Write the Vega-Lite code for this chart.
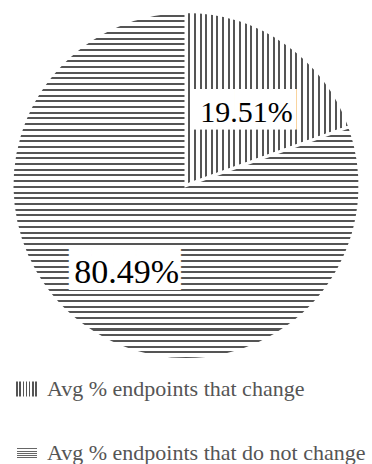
{
  "$schema": "https://vega.github.io/schema/vega-lite/v6.json",
  "width": 372,
  "height": 464,
  "autosize": {"type": "fit", "contains": "padding"},
  "padding": 0,
  "background": "white",
  "config": {"view": {"stroke": null}},
  "data": {
    "values": [
      {"category": "Avg % endpoints that change", "share": 0.1951},
      {"category": "Avg % endpoints that do not change", "share": 0.8049}
    ]
  },
  "encoding": {
    "theta": {"field": "share", "type": "quantitative", "stack": true},
    "order": {"field": "share", "type": "quantitative", "sort": "ascending"}
  },
  "layer": [
    {
      "mark": {"type": "arc", "outerRadius": 174, "stroke": "white", "strokeWidth": 3},
      "encoding": {
        "fill": {
          "condition": [
            {"test": "datum.category === 'Avg % endpoints that change'", "value": {"gradient": "linear", "x1": 0, "y1": 0, "x2": 1, "y2": 0, "stops": [
                {"offset":0,"color":"#fff"},
                {"offset":0.0141,"color":"#fff"},{"offset":0.0141,"color":"#555"},{"offset":0.0264,"color":"#555"},{"offset":0.0264,"color":"#fff"},
                {"offset":0.0485,"color":"#fff"},{"offset":0.0485,"color":"#555"},{"offset":0.0608,"color":"#555"},{"offset":0.0608,"color":"#fff"},
                {"offset":0.0829,"color":"#fff"},{"offset":0.0829,"color":"#555"},{"offset":0.0952,"color":"#555"},{"offset":0.0952,"color":"#fff"},
                {"offset":0.1173,"color":"#fff"},{"offset":0.1173,"color":"#555"},{"offset":0.1296,"color":"#555"},{"offset":0.1296,"color":"#fff"},
                {"offset":0.1517,"color":"#fff"},{"offset":0.1517,"color":"#555"},{"offset":0.1640,"color":"#555"},{"offset":0.1640,"color":"#fff"},
                {"offset":0.1861,"color":"#fff"},{"offset":0.1861,"color":"#555"},{"offset":0.1984,"color":"#555"},{"offset":0.1984,"color":"#fff"},
                {"offset":0.2205,"color":"#fff"},{"offset":0.2205,"color":"#555"},{"offset":0.2328,"color":"#555"},{"offset":0.2328,"color":"#fff"},
                {"offset":0.2549,"color":"#fff"},{"offset":0.2549,"color":"#555"},{"offset":0.2672,"color":"#555"},{"offset":0.2672,"color":"#fff"},
                {"offset":0.2893,"color":"#fff"},{"offset":0.2893,"color":"#555"},{"offset":0.3016,"color":"#555"},{"offset":0.3016,"color":"#fff"},
                {"offset":0.3237,"color":"#fff"},{"offset":0.3237,"color":"#555"},{"offset":0.3360,"color":"#555"},{"offset":0.3360,"color":"#fff"},
                {"offset":0.3581,"color":"#fff"},{"offset":0.3581,"color":"#555"},{"offset":0.3704,"color":"#555"},{"offset":0.3704,"color":"#fff"},
                {"offset":0.3925,"color":"#fff"},{"offset":0.3925,"color":"#555"},{"offset":0.4048,"color":"#555"},{"offset":0.4048,"color":"#fff"},
                {"offset":0.4269,"color":"#fff"},{"offset":0.4269,"color":"#555"},{"offset":0.4392,"color":"#555"},{"offset":0.4392,"color":"#fff"},
                {"offset":0.4613,"color":"#fff"},{"offset":0.4613,"color":"#555"},{"offset":0.4736,"color":"#555"},{"offset":0.4736,"color":"#fff"},
                {"offset":0.4957,"color":"#fff"},{"offset":0.4957,"color":"#555"},{"offset":0.5080,"color":"#555"},{"offset":0.5080,"color":"#fff"},
                {"offset":0.5301,"color":"#fff"},{"offset":0.5301,"color":"#555"},{"offset":0.5424,"color":"#555"},{"offset":0.5424,"color":"#fff"},
                {"offset":0.5645,"color":"#fff"},{"offset":0.5645,"color":"#555"},{"offset":0.5768,"color":"#555"},{"offset":0.5768,"color":"#fff"},
                {"offset":0.5989,"color":"#fff"},{"offset":0.5989,"color":"#555"},{"offset":0.6112,"color":"#555"},{"offset":0.6112,"color":"#fff"},
                {"offset":0.6333,"color":"#fff"},{"offset":0.6333,"color":"#555"},{"offset":0.6456,"color":"#555"},{"offset":0.6456,"color":"#fff"},
                {"offset":0.6677,"color":"#fff"},{"offset":0.6677,"color":"#555"},{"offset":0.6800,"color":"#555"},{"offset":0.6800,"color":"#fff"},
                {"offset":0.7021,"color":"#fff"},{"offset":0.7021,"color":"#555"},{"offset":0.7144,"color":"#555"},{"offset":0.7144,"color":"#fff"},
                {"offset":0.7365,"color":"#fff"},{"offset":0.7365,"color":"#555"},{"offset":0.7488,"color":"#555"},{"offset":0.7488,"color":"#fff"},
                {"offset":0.7709,"color":"#fff"},{"offset":0.7709,"color":"#555"},{"offset":0.7832,"color":"#555"},{"offset":0.7832,"color":"#fff"},
                {"offset":0.8053,"color":"#fff"},{"offset":0.8053,"color":"#555"},{"offset":0.8176,"color":"#555"},{"offset":0.8176,"color":"#fff"},
                {"offset":0.8397,"color":"#fff"},{"offset":0.8397,"color":"#555"},{"offset":0.8520,"color":"#555"},{"offset":0.8520,"color":"#fff"},
                {"offset":0.8741,"color":"#fff"},{"offset":0.8741,"color":"#555"},{"offset":0.8864,"color":"#555"},{"offset":0.8864,"color":"#fff"},
                {"offset":0.9085,"color":"#fff"},{"offset":0.9085,"color":"#555"},{"offset":0.9208,"color":"#555"},{"offset":0.9208,"color":"#fff"},
                {"offset":0.9429,"color":"#fff"},{"offset":0.9429,"color":"#555"},{"offset":0.9552,"color":"#555"},{"offset":0.9552,"color":"#fff"},
                {"offset":0.9773,"color":"#fff"},{"offset":0.9773,"color":"#555"},{"offset":0.9896,"color":"#555"},{"offset":0.9896,"color":"#fff"},
                {"offset":1,"color":"#fff"}
              ]}},
            {"test": "datum.category === 'Avg % endpoints that do not change'", "value": {"gradient": "linear", "x1": 0, "y1": 0, "x2": 0, "y2": 1, "stops": [
                {"offset":0,"color":"#fff"},
                {"offset":0.0093,"color":"#fff"},{"offset":0.0093,"color":"#555"},{"offset":0.0151,"color":"#555"},{"offset":0.0151,"color":"#fff"},
                {"offset":0.0257,"color":"#fff"},{"offset":0.0257,"color":"#555"},{"offset":0.0315,"color":"#555"},{"offset":0.0315,"color":"#fff"},
                {"offset":0.0421,"color":"#fff"},{"offset":0.0421,"color":"#555"},{"offset":0.0479,"color":"#555"},{"offset":0.0479,"color":"#fff"},
                {"offset":0.0585,"color":"#fff"},{"offset":0.0585,"color":"#555"},{"offset":0.0643,"color":"#555"},{"offset":0.0643,"color":"#fff"},
                {"offset":0.0749,"color":"#fff"},{"offset":0.0749,"color":"#555"},{"offset":0.0807,"color":"#555"},{"offset":0.0807,"color":"#fff"},
                {"offset":0.0913,"color":"#fff"},{"offset":0.0913,"color":"#555"},{"offset":0.0971,"color":"#555"},{"offset":0.0971,"color":"#fff"},
                {"offset":0.1077,"color":"#fff"},{"offset":0.1077,"color":"#555"},{"offset":0.1135,"color":"#555"},{"offset":0.1135,"color":"#fff"},
                {"offset":0.1241,"color":"#fff"},{"offset":0.1241,"color":"#555"},{"offset":0.1299,"color":"#555"},{"offset":0.1299,"color":"#fff"},
                {"offset":0.1404,"color":"#fff"},{"offset":0.1404,"color":"#555"},{"offset":0.1462,"color":"#555"},{"offset":0.1462,"color":"#fff"},
                {"offset":0.1568,"color":"#fff"},{"offset":0.1568,"color":"#555"},{"offset":0.1626,"color":"#555"},{"offset":0.1626,"color":"#fff"},
                {"offset":0.1732,"color":"#fff"},{"offset":0.1732,"color":"#555"},{"offset":0.1790,"color":"#555"},{"offset":0.1790,"color":"#fff"},
                {"offset":0.1896,"color":"#fff"},{"offset":0.1896,"color":"#555"},{"offset":0.1954,"color":"#555"},{"offset":0.1954,"color":"#fff"},
                {"offset":0.2060,"color":"#fff"},{"offset":0.2060,"color":"#555"},{"offset":0.2118,"color":"#555"},{"offset":0.2118,"color":"#fff"},
                {"offset":0.2224,"color":"#fff"},{"offset":0.2224,"color":"#555"},{"offset":0.2282,"color":"#555"},{"offset":0.2282,"color":"#fff"},
                {"offset":0.2388,"color":"#fff"},{"offset":0.2388,"color":"#555"},{"offset":0.2446,"color":"#555"},{"offset":0.2446,"color":"#fff"},
                {"offset":0.2552,"color":"#fff"},{"offset":0.2552,"color":"#555"},{"offset":0.2610,"color":"#555"},{"offset":0.2610,"color":"#fff"},
                {"offset":0.2716,"color":"#fff"},{"offset":0.2716,"color":"#555"},{"offset":0.2774,"color":"#555"},{"offset":0.2774,"color":"#fff"},
                {"offset":0.2880,"color":"#fff"},{"offset":0.2880,"color":"#555"},{"offset":0.2938,"color":"#555"},{"offset":0.2938,"color":"#fff"},
                {"offset":0.3044,"color":"#fff"},{"offset":0.3044,"color":"#555"},{"offset":0.3102,"color":"#555"},{"offset":0.3102,"color":"#fff"},
                {"offset":0.3208,"color":"#fff"},{"offset":0.3208,"color":"#555"},{"offset":0.3266,"color":"#555"},{"offset":0.3266,"color":"#fff"},
                {"offset":0.3372,"color":"#fff"},{"offset":0.3372,"color":"#555"},{"offset":0.3430,"color":"#555"},{"offset":0.3430,"color":"#fff"},
                {"offset":0.3536,"color":"#fff"},{"offset":0.3536,"color":"#555"},{"offset":0.3594,"color":"#555"},{"offset":0.3594,"color":"#fff"},
                {"offset":0.3700,"color":"#fff"},{"offset":0.3700,"color":"#555"},{"offset":0.3758,"color":"#555"},{"offset":0.3758,"color":"#fff"},
                {"offset":0.3863,"color":"#fff"},{"offset":0.3863,"color":"#555"},{"offset":0.3921,"color":"#555"},{"offset":0.3921,"color":"#fff"},
                {"offset":0.4027,"color":"#fff"},{"offset":0.4027,"color":"#555"},{"offset":0.4085,"color":"#555"},{"offset":0.4085,"color":"#fff"},
                {"offset":0.4191,"color":"#fff"},{"offset":0.4191,"color":"#555"},{"offset":0.4249,"color":"#555"},{"offset":0.4249,"color":"#fff"},
                {"offset":0.4355,"color":"#fff"},{"offset":0.4355,"color":"#555"},{"offset":0.4413,"color":"#555"},{"offset":0.4413,"color":"#fff"},
                {"offset":0.4519,"color":"#fff"},{"offset":0.4519,"color":"#555"},{"offset":0.4577,"color":"#555"},{"offset":0.4577,"color":"#fff"},
                {"offset":0.4683,"color":"#fff"},{"offset":0.4683,"color":"#555"},{"offset":0.4741,"color":"#555"},{"offset":0.4741,"color":"#fff"},
                {"offset":0.4847,"color":"#fff"},{"offset":0.4847,"color":"#555"},{"offset":0.4905,"color":"#555"},{"offset":0.4905,"color":"#fff"},
                {"offset":0.5011,"color":"#fff"},{"offset":0.5011,"color":"#555"},{"offset":0.5069,"color":"#555"},{"offset":0.5069,"color":"#fff"},
                {"offset":0.5175,"color":"#fff"},{"offset":0.5175,"color":"#555"},{"offset":0.5233,"color":"#555"},{"offset":0.5233,"color":"#fff"},
                {"offset":0.5339,"color":"#fff"},{"offset":0.5339,"color":"#555"},{"offset":0.5397,"color":"#555"},{"offset":0.5397,"color":"#fff"},
                {"offset":0.5503,"color":"#fff"},{"offset":0.5503,"color":"#555"},{"offset":0.5561,"color":"#555"},{"offset":0.5561,"color":"#fff"},
                {"offset":0.5667,"color":"#fff"},{"offset":0.5667,"color":"#555"},{"offset":0.5725,"color":"#555"},{"offset":0.5725,"color":"#fff"},
                {"offset":0.5831,"color":"#fff"},{"offset":0.5831,"color":"#555"},{"offset":0.5889,"color":"#555"},{"offset":0.5889,"color":"#fff"},
                {"offset":0.5995,"color":"#fff"},{"offset":0.5995,"color":"#555"},{"offset":0.6053,"color":"#555"},{"offset":0.6053,"color":"#fff"},
                {"offset":0.6159,"color":"#fff"},{"offset":0.6159,"color":"#555"},{"offset":0.6217,"color":"#555"},{"offset":0.6217,"color":"#fff"},
                {"offset":0.6323,"color":"#fff"},{"offset":0.6323,"color":"#555"},{"offset":0.6381,"color":"#555"},{"offset":0.6381,"color":"#fff"},
                {"offset":0.6486,"color":"#fff"},{"offset":0.6486,"color":"#555"},{"offset":0.6544,"color":"#555"},{"offset":0.6544,"color":"#fff"},
                {"offset":0.6650,"color":"#fff"},{"offset":0.6650,"color":"#555"},{"offset":0.6708,"color":"#555"},{"offset":0.6708,"color":"#fff"},
                {"offset":0.6814,"color":"#fff"},{"offset":0.6814,"color":"#555"},{"offset":0.6872,"color":"#555"},{"offset":0.6872,"color":"#fff"},
                {"offset":0.6978,"color":"#fff"},{"offset":0.6978,"color":"#555"},{"offset":0.7036,"color":"#555"},{"offset":0.7036,"color":"#fff"},
                {"offset":0.7142,"color":"#fff"},{"offset":0.7142,"color":"#555"},{"offset":0.7200,"color":"#555"},{"offset":0.7200,"color":"#fff"},
                {"offset":0.7306,"color":"#fff"},{"offset":0.7306,"color":"#555"},{"offset":0.7364,"color":"#555"},{"offset":0.7364,"color":"#fff"},
                {"offset":0.7470,"color":"#fff"},{"offset":0.7470,"color":"#555"},{"offset":0.7528,"color":"#555"},{"offset":0.7528,"color":"#fff"},
                {"offset":0.7634,"color":"#fff"},{"offset":0.7634,"color":"#555"},{"offset":0.7692,"color":"#555"},{"offset":0.7692,"color":"#fff"},
                {"offset":0.7798,"color":"#fff"},{"offset":0.7798,"color":"#555"},{"offset":0.7856,"color":"#555"},{"offset":0.7856,"color":"#fff"},
                {"offset":0.7962,"color":"#fff"},{"offset":0.7962,"color":"#555"},{"offset":0.8020,"color":"#555"},{"offset":0.8020,"color":"#fff"},
                {"offset":0.8126,"color":"#fff"},{"offset":0.8126,"color":"#555"},{"offset":0.8184,"color":"#555"},{"offset":0.8184,"color":"#fff"},
                {"offset":0.8290,"color":"#fff"},{"offset":0.8290,"color":"#555"},{"offset":0.8348,"color":"#555"},{"offset":0.8348,"color":"#fff"},
                {"offset":0.8454,"color":"#fff"},{"offset":0.8454,"color":"#555"},{"offset":0.8512,"color":"#555"},{"offset":0.8512,"color":"#fff"},
                {"offset":0.8618,"color":"#fff"},{"offset":0.8618,"color":"#555"},{"offset":0.8676,"color":"#555"},{"offset":0.8676,"color":"#fff"},
                {"offset":0.8782,"color":"#fff"},{"offset":0.8782,"color":"#555"},{"offset":0.8840,"color":"#555"},{"offset":0.8840,"color":"#fff"},
                {"offset":0.8945,"color":"#fff"},{"offset":0.8945,"color":"#555"},{"offset":0.9003,"color":"#555"},{"offset":0.9003,"color":"#fff"},
                {"offset":0.9109,"color":"#fff"},{"offset":0.9109,"color":"#555"},{"offset":0.9167,"color":"#555"},{"offset":0.9167,"color":"#fff"},
                {"offset":0.9273,"color":"#fff"},{"offset":0.9273,"color":"#555"},{"offset":0.9331,"color":"#555"},{"offset":0.9331,"color":"#fff"},
                {"offset":0.9437,"color":"#fff"},{"offset":0.9437,"color":"#555"},{"offset":0.9495,"color":"#555"},{"offset":0.9495,"color":"#fff"},
                {"offset":0.9601,"color":"#fff"},{"offset":0.9601,"color":"#555"},{"offset":0.9659,"color":"#555"},{"offset":0.9659,"color":"#fff"},
                {"offset":0.9765,"color":"#fff"},{"offset":0.9765,"color":"#555"},{"offset":0.9823,"color":"#555"},{"offset":0.9823,"color":"#fff"},
                {"offset":0.9929,"color":"#fff"},{"offset":0.9929,"color":"#555"},{"offset":0.9987,"color":"#555"},{"offset":0.9987,"color":"#fff"},
                {"offset":1,"color":"#fff"}
              ]}}
          ],
          "field": "category",
          "type": "nominal",
          "scale": {
            "domain": ["Avg % endpoints that change", "Avg % endpoints that do not change"],
            "range": [
              {"expr": "{gradient: 'linear', x1: 0, y1: 0, x2: 1, y2: 0, stops: [{offset: 0, color: '#fff'}, {offset: 0.01, color: '#fff'}, {offset: 0.01, color: '#555'}, {offset: 0.085, color: '#555'}, {offset: 0.085, color: '#fff'}, {offset: 0.1529, color: '#fff'}, {offset: 0.1529, color: '#555'}, {offset: 0.2279, color: '#555'}, {offset: 0.2279, color: '#fff'}, {offset: 0.2957, color: '#fff'}, {offset: 0.2957, color: '#555'}, {offset: 0.3707, color: '#555'}, {offset: 0.3707, color: '#fff'}, {offset: 0.4386, color: '#fff'}, {offset: 0.4386, color: '#555'}, {offset: 0.5136, color: '#555'}, {offset: 0.5136, color: '#fff'}, {offset: 0.5814, color: '#fff'}, {offset: 0.5814, color: '#555'}, {offset: 0.6564, color: '#555'}, {offset: 0.6564, color: '#fff'}, {offset: 0.7243, color: '#fff'}, {offset: 0.7243, color: '#555'}, {offset: 0.7993, color: '#555'}, {offset: 0.7993, color: '#fff'}, {offset: 0.8671, color: '#fff'}, {offset: 0.8671, color: '#555'}, {offset: 0.9421, color: '#555'}, {offset: 0.9421, color: '#fff'}, {offset: 1, color: '#fff'}]}"},
              {"expr": "{gradient: 'linear', x1: 0, y1: 0, x2: 0, y2: 1, stops: [{offset: 0, color: '#fff'}, {offset: 0.02, color: '#fff'}, {offset: 0.02, color: '#666'}, {offset: 0.1, color: '#666'}, {offset: 0.1, color: '#fff'}, {offset: 0.1867, color: '#fff'}, {offset: 0.1867, color: '#666'}, {offset: 0.2667, color: '#666'}, {offset: 0.2667, color: '#fff'}, {offset: 0.3533, color: '#fff'}, {offset: 0.3533, color: '#666'}, {offset: 0.4333, color: '#666'}, {offset: 0.4333, color: '#fff'}, {offset: 0.52, color: '#fff'}, {offset: 0.52, color: '#666'}, {offset: 0.6, color: '#666'}, {offset: 0.6, color: '#fff'}, {offset: 0.6867, color: '#fff'}, {offset: 0.6867, color: '#666'}, {offset: 0.7667, color: '#666'}, {offset: 0.7667, color: '#fff'}, {offset: 0.8533, color: '#fff'}, {offset: 0.8533, color: '#666'}, {offset: 0.9333, color: '#666'}, {offset: 0.9333, color: '#fff'}, {offset: 1, color: '#fff'}]}"}
            ]
          },
          "legend": {
            "title": null,
            "orient": "bottom",
            "direction": "vertical",
            "padding": 0,
            "offset": 7,
            "rowPadding": 42,
            "symbolType": "square",
            "symbolSize": 400,
            "symbolStrokeWidth": 0,
            "symbolOffset": 16,
            "labelFont": "Liberation Serif",
            "labelFontSize": 22,
            "labelColor": "#555",
            "labelOffset": 9,
            "labelLimit": 0,
            "encoding": {
              "symbols": {
                "shape": {
                  "condition": {"test": "datum.value === 'Avg % endpoints that change'", "value": "M-1.1,-0.75H1.1V0.75H-1.1Z"},
                  "value": "M-1,-0.55H1V0.55H-1Z"
                }
              }
            }
          }
        }
      }
    },
    {
      "mark": {"type": "text", "radius": 88.6, "dx": 8, "dy": -2, "font": "DejaVu Sans Mono", "fontSize": 34, "color": "white", "align": "center", "baseline": "middle"},
      "encoding": {
        "text": {"value": "█████"},
        "opacity": {"condition": {"test": "datum.category === 'Avg % endpoints that change'", "value": 1}, "value": 0}
      }
    },
    {
      "mark": {"type": "text", "radius": 106.7, "dx": 0, "dy": -3, "font": "DejaVu Sans Mono", "fontSize": 37, "color": "white", "align": "center", "baseline": "middle"},
      "encoding": {
        "text": {"value": "█████"},
        "opacity": {"condition": {"test": "datum.category === 'Avg % endpoints that do not change'", "value": 1}, "value": 0}
      }
    },
    {
      "mark": {"type": "text", "radius": 88.6, "dx": 9.5, "font": "Liberation Serif", "fontSize": 30, "color": "black", "align": "center", "baseline": "middle"},
      "encoding": {
        "text": {"field": "share", "type": "quantitative", "format": ".2%"},
        "opacity": {"condition": {"test": "datum.category === 'Avg % endpoints that change'", "value": 1}, "value": 0}
      }
    },
    {
      "mark": {"type": "text", "radius": 106.7, "dx": 2, "font": "Liberation Serif", "fontSize": 34, "color": "black", "align": "center", "baseline": "middle"},
      "encoding": {
        "text": {"field": "share", "type": "quantitative", "format": ".2%"},
        "opacity": {"condition": {"test": "datum.category === 'Avg % endpoints that do not change'", "value": 1}, "value": 0}
      }
    }
  ]
}
